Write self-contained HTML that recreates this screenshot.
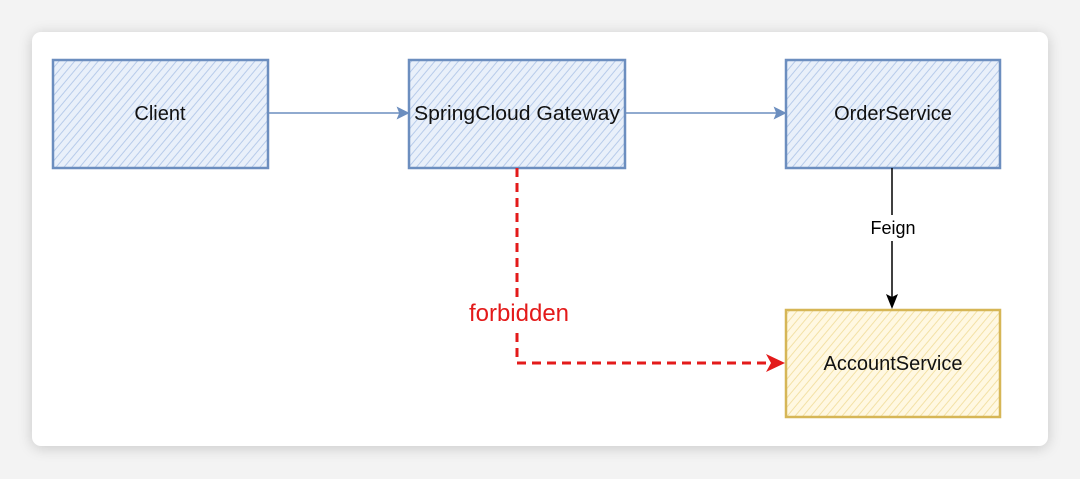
<!DOCTYPE html>
<html><head><style>
body{margin:0;width:1080px;height:479px;background:#f3f3f3;overflow:hidden;font-family:"Liberation Sans",sans-serif}
.card{position:absolute;left:32px;top:32px;width:1016px;height:414px;background:#fff;border-radius:9px;box-shadow:0 2px 14px rgba(0,0,0,0.18)}
</style></head><body>
<div class="card"></div>
<svg width="1080" height="479" style="position:absolute;left:0;top:0">
<defs>
<pattern id="hb" width="6" height="6" patternUnits="userSpaceOnUse" patternTransform="rotate(40)">
<rect width="6" height="6" fill="#e9f0fa"/><line x1="0" y1="0" x2="0" y2="6" stroke="#b7cbea" stroke-width="2"/></pattern>
<pattern id="hy" width="6" height="6" patternUnits="userSpaceOnUse" patternTransform="rotate(40)">
<rect width="6" height="6" fill="#fff8e2"/><line x1="0" y1="0" x2="0" y2="6" stroke="#f3e1a6" stroke-width="2"/></pattern>
</defs>
<g stroke="#6c8ebf" stroke-width="2.5" fill="url(#hb)">
<rect x="53" y="60" width="215" height="108"/>
<rect x="409" y="60" width="216" height="108"/>
<rect x="786" y="60" width="214" height="108"/>
</g>
<rect x="786" y="310" width="214" height="107" stroke="#d6b656" stroke-width="2.5" fill="url(#hy)"/>
<g stroke="#6c8ebf" stroke-width="1.5" fill="#6c8ebf">
<line x1="268" y1="113" x2="400" y2="113"/><polygon points="408,113 398,108 400,113 398,118"/>
<line x1="625" y1="113" x2="777" y2="113"/><polygon points="785,113 775,108 777,113 775,118"/>
</g>
<line x1="892" y1="168" x2="892" y2="298" stroke="#000" stroke-width="1.5"/>
<polygon points="892,309 886,294 892,297 898,294" fill="#000"/>
<rect x="864" y="215" width="58" height="26" fill="#fff"/>
<text x="893" y="234" font-size="18" text-anchor="middle" font-family="Liberation Sans">Feign</text>
<path d="M517 168 V363 H773" stroke="#e31a1a" stroke-width="3" stroke-dasharray="9,6" fill="none"/>
<polygon points="785,363 766,354 771,363 766,372" fill="#e31a1a"/>
<rect x="462" y="298" width="114" height="30" fill="#fff"/>
<text x="519" y="321" font-size="24" fill="#e31a1a" text-anchor="middle" font-family="Liberation Sans">forbidden</text>
<g font-size="20" text-anchor="middle" font-family="Liberation Sans" fill="#111">
<text x="160" y="120">Client</text>
<text x="517" y="120" textLength="206" lengthAdjust="spacingAndGlyphs">SpringCloud Gateway</text>
<text x="893" y="120">OrderService</text>
<text x="893" y="370">AccountService</text>
</g>
</svg>
</body></html>
